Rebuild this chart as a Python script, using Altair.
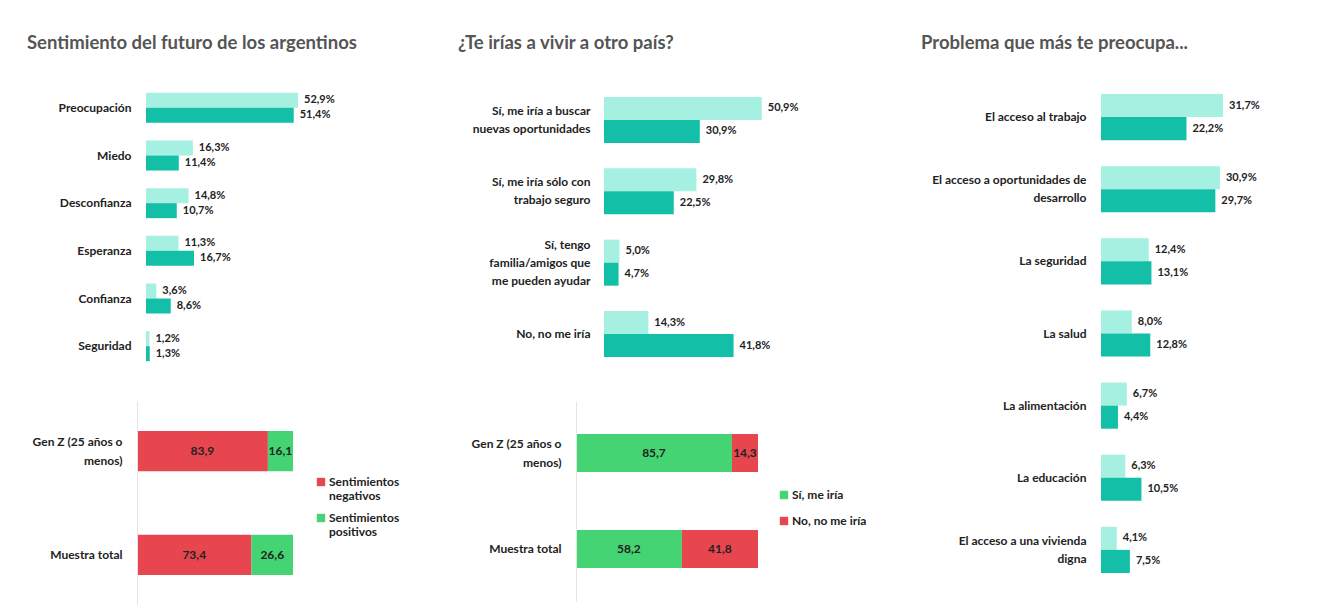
import altair as alt
import pandas as pd

# ---------------- data ----------------
sent_titulo = "Sentimiento del futuro de los argentinos"
sent_cats = ["Preocupación", "Miedo", "Desconfianza", "Esperanza", "Confianza", "Seguridad"]
sent_claro = [52.9, 16.3, 14.8, 11.3, 3.6, 1.2]
sent_oscuro = [51.4, 11.4, 10.7, 16.7, 8.6, 1.3]

sent_grupos = ["Gen Z (25 años o\nmenos)", "Muestra total"]
sent_series = ["Sentimientos negativos", "Sentimientos positivos"]
sent_neg = [83.9, 73.4]
sent_pos = [16.1, 26.6]

emig_titulo = "¿Te irías a vivir a otro país?"
emig_cats = ["Sí, me iría a buscar\nnuevas oportunidades", "Sí, me iría sólo con\ntrabajo seguro",
             "Sí, tengo\nfamilia/amigos que\nme pueden ayudar", "No, no me iría"]
emig_claro = [50.9, 29.8, 5.0, 14.3]
emig_oscuro = [30.9, 22.5, 4.7, 41.8]

emig_grupos = ["Gen Z (25 años o\nmenos)", "Muestra total"]
emig_series = ["Sí, me iría", "No, no me iría"]
emig_si = [85.7, 58.2]
emig_no = [14.3, 41.8]

prob_titulo = "Problema que más te preocupa..."
prob_cats = ["El acceso al trabajo", "El acceso a oportunidades de\ndesarrollo", "La seguridad", "La salud",
             "La alimentación", "La educación", "El acceso a una vivienda\ndigna"]
prob_claro = [31.7, 30.9, 12.4, 8.0, 6.7, 6.3, 4.1]
prob_oscuro = [22.2, 29.7, 13.1, 12.8, 4.4, 10.5, 7.5]

series_barras = ["Gen Z", "Muestra total"]

# ---------------- style ----------------
FONT = "Lato"
LIGHT = "#a5f0e0"
DARK = "#13bfa6"
RED = "#e8464f"
GREEN = "#44d474"
TXT = "#222222"
TITLE_C = "#555555"
SPLIT = "split(datum.label, '\\n')"


def center_offset(line_h):
    # shift multi-line labels up so the whole block is centred on its band
    return {
        "condition": [
            {"test": "length(split(datum.label, '\\n')) == 3", "value": -line_h},
            {"test": "length(split(datum.label, '\\n')) == 2", "value": -line_h / 2},
        ],
        "value": 0,
    }


def grouped(cats, claro, oscuro, width, height, px_unit, shift, p_in, p_out, lab_pad):
    rows = []
    for c, a, b in zip(cats, claro, oscuro):
        rows.append({"cat": c, "serie": series_barras[0], "idx": 0, "v": a})
        rows.append({"cat": c, "serie": series_barras[1], "idx": 1, "v": b})
    df = pd.DataFrame(rows)
    xmin = -shift / px_unit
    xmax = width / px_unit + xmin
    xs = alt.Scale(domain=[xmin, xmax], nice=False, zero=False)
    y = alt.Y("cat:N", sort=cats, title=None,
              scale=alt.Scale(paddingInner=p_in, paddingOuter=p_out),
              axis=alt.Axis(domain=False, ticks=False, labelPadding=lab_pad, labelExpr=SPLIT,
                            labelLineHeight=18, labelOffset=center_offset(18), labelFontSize=12,
                            labelFontWeight="bold", labelColor=TXT, labelFont=FONT,
                            labelLimit=400, zindex=1))
    yo = alt.YOffset("idx:O")
    base = alt.Chart(df).transform_calculate(
        lbl="replace(format(datum.v, '.1f'), '.', ',') + '%'")
    bars = base.mark_bar().encode(
        y=y, yOffset=yo,
        x=alt.X("v:Q", scale=xs, axis=None), x2=alt.datum(0),
        color=alt.Color("serie:N", scale=alt.Scale(domain=series_barras, range=[LIGHT, DARK]), legend=None),
    )
    text = base.mark_text(align="left", baseline="middle", dx=6, font=FONT, fontSize=11,
                          fontWeight="bold", color=TXT).encode(
        y=y, yOffset=yo, x=alt.X("v:Q", scale=xs, axis=None), text="lbl:N")
    return alt.layer(bars, text).properties(width=width, height=height)


def stacked(grupos, series, vals, colors, width, height, p_in, p_out, leg_x, leg_y, row_pad, leg_expr):
    rows = []
    for gi, g in enumerate(grupos):
        for si, s in enumerate(series):
            rows.append({"grp": g, "serie": s, "idx": si, "v": vals[si][gi]})
    df = pd.DataFrame(rows)
    base = alt.Chart(df).transform_stack(
        stack="v", groupby=["grp"], as_=["x0", "x1"],
        sort=[alt.SortField(field="idx", order="ascending")]
    ).transform_calculate(
        xm="(datum.x0 + datum.x1) / 2",
        lbl="replace(format(datum.v, '.1f'), '.', ',')")
    xs = alt.Scale(domain=[0, 100], nice=False)
    y = alt.Y("grp:N", sort=grupos, title=None,
              scale=alt.Scale(paddingInner=p_in, paddingOuter=p_out),
              axis=alt.Axis(domain=True, domainColor="#e4e4e4", domainWidth=1, ticks=False,
                            labelPadding=15, labelExpr=SPLIT, labelLineHeight=19,
                            labelOffset=center_offset(19), labelFontSize=12,
                            labelFontWeight="bold", labelColor=TXT, labelFont=FONT, labelLimit=400,
                            zindex=1))
    bars = base.mark_bar().encode(
        y=y,
        x=alt.X("x0:Q", scale=xs, axis=None), x2="x1:Q",
        color=alt.Color("serie:N", sort=series, scale=alt.Scale(domain=series, range=colors),
                        legend=alt.Legend(title=None, orient="none", legendX=leg_x, legendY=leg_y,
                                          symbolType="square", symbolSize=70, symbolStrokeWidth=0,
                                          labelExpr=leg_expr, labelFont=FONT, labelFontSize=12,
                                          labelFontWeight="bold", labelColor=TXT, rowPadding=row_pad,
                                          labelOffset=2, padding=0)),
    )
    text = base.mark_text(align="center", baseline="middle", font=FONT, fontSize=12,
                          fontWeight="bold", color=TXT).encode(
        y=y, x=alt.X("xm:Q", scale=xs, axis=None), text="lbl:N")
    return alt.layer(bars, text).properties(width=width, height=height)


def title(text, dx):
    return alt.TitleParams(text, anchor="start", frame="group", dx=dx, offset=32, font=FONT,
                           fontSize=18.5, fontWeight="bold", color=TITLE_C)


IND = dict(color="independent", yOffset="independent", x="independent", y="independent")

c1_top = grouped(sent_cats, sent_claro, sent_oscuro, 281, 286, 2.874, 9, 0.37, 0.185, 6)
c1_bot = stacked(sent_grupos, sent_series, [sent_neg, sent_pos], [RED, GREEN], 156, 204,
                 0.612, 0.29, 178, 75, 10, "split(datum.label, ' ')")
col1 = alt.vconcat(c1_top, c1_bot, spacing=31, bounds="flush",
                   title=title(sent_titulo, -110)).resolve_scale(**IND)

c2_top = grouped(emig_cats, emig_claro, emig_oscuro, 305, 286, 3.1, 28, 0.355, 0.182, -14)
c2_bot = stacked(emig_grupos, emig_series, [emig_si, emig_no], [GREEN, RED], 182, 200,
                 0.604, 0.344, 202, 88, 14, "datum.label")
col2 = alt.vconcat(c2_top, c2_bot, spacing=31, bounds="flush",
                   title=title(emig_titulo, -118)).resolve_scale(**IND)

c3 = grouped(prob_cats, prob_claro, prob_oscuro, 180, 499, 3.85, 0, 0.36, 0.139, 15)
col3 = alt.vconcat(c3, bounds="flush", title=title(prob_titulo, -180)).resolve_scale(**IND)

chart = alt.hconcat(col1, col2, col3, spacing=40).resolve_scale(**IND).properties(
    padding={"left": 19, "top": 25, "right": 5, "bottom": 0}
).configure(background="white", font=FONT).configure_view(stroke=None)

chart.save("out.html", embed_options={"renderer": "svg", "actions": False})
